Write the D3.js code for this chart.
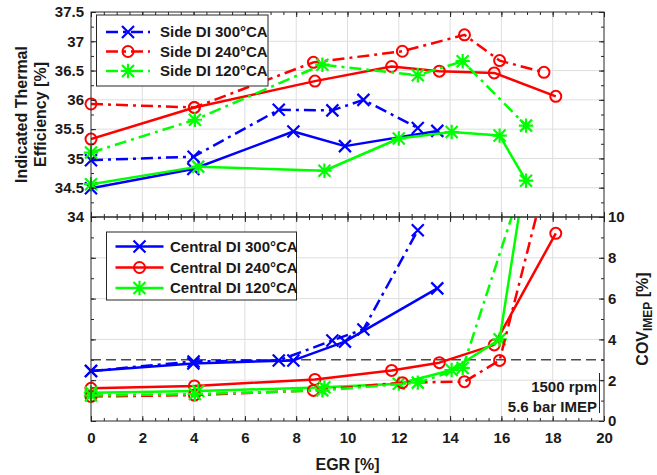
<!DOCTYPE html>
<html><head><meta charset="utf-8">
<script src="https://cdn.jsdelivr.net/npm/d3@7"></script>
<style>
body{margin:0;background:#fff}
svg{display:block}
text{font-family:"Liberation Sans",Arial,sans-serif;font-weight:bold;fill:#1a1a1a}
</style>
</head><body>
<svg id="c" width="657" height="475"></svg>
<script>
// ---- tick labels ----
const xTicks=[0,2,4,6,8,10,12,14,16,18,20];
const effTicks=[34,34.5,35,35.5,36,36.5,37,37.5];
const covTicks=[0,2,4,6,8,10];
// ---- Central DI (solid) ----
const egrC300=[0,3.99,7.89,9.9,13.5];
const effC300=[34.49,34.82,35.46,35.21,35.47];
const covC300=[2.45,2.82,2.97,3.89,6.5];
const egrC240=[0,4.03,8.73,11.72,13.58,15.72,18.12];
const effC240=[35.33,35.87,36.32,36.57,36.49,36.46,36.06];
const covC240=[1.6,1.72,2.04,2.48,2.86,3.73,9.2];
const egrC120=[0,4.18,9.1,12.0,14.06,15.93,16.96];
const effC120=[34.56,34.86,34.79,35.34,35.45,35.39,34.62];
const covC120=[1.39,1.47,1.65,1.83,2.5,4.0,12.3];
// ---- Side DI (dash-dot) ----
const egrS300=[0,4.0,7.32,9.41,10.62,12.74];
const effS300=[34.97,35.03,35.83,35.82,36.0,35.52];
const covS300=[2.45,2.92,2.97,3.95,4.49,9.35];
const egrS240=[0,4.03,8.67,12.14,14.56,15.93,17.66];
const effS240=[35.93,35.87,36.64,36.83,37.11,36.67,36.47];
const covS240=[1.2,1.27,1.5,1.88,1.93,2.97,11.5];
const egrS120=[0,4.05,9.02,12.74,14.49,16.96];
const effS120=[35.10,35.66,36.60,36.42,36.66,35.56];
const covS120=[1.25,1.32,1.5,1.88,2.6,12.17];
const covLimit=3;

const BLUE="#0000ff",RED="#ff0000",GREEN="#00ff00";
const series=[
 {name:"Central DI 300°CA",egr:egrC300,eff:effC300,cov:covC300,color:BLUE,mk:"x",dash:null},
 {name:"Central DI 240°CA",egr:egrC240,eff:effC240,cov:covC240,color:RED,mk:"o",dash:null},
 {name:"Central DI 120°CA",egr:egrC120,eff:effC120,cov:covC120,color:GREEN,mk:"*",dash:null},
 {name:"Side DI 300°CA",egr:egrS300,eff:effS300,cov:covS300,color:BLUE,mk:"x",dash:"12,5,3,5"},
 {name:"Side DI 240°CA",egr:egrS240,eff:effS240,cov:covS240,color:RED,mk:"o",dash:"12,5,3,5"},
 {name:"Side DI 120°CA",egr:egrS120,eff:effS120,cov:covS120,color:GREEN,mk:"*",dash:"12,5,3,5"}
];

const L=91,R=604,T=12,M=217,B=421;
const svg=d3.select("#c");
const x=d3.scaleLinear().domain([0,20]).range([L,R]);
const yE=d3.scaleLinear().domain([34,37.5]).range([M,T]);
const yC=d3.scaleLinear().domain([0,10]).range([B,M]);
const AX="#262626",GRID="#dedede";

// clip paths
const defs=svg.append("defs");
defs.append("clipPath").attr("id","clipTop").append("rect").attr("x",L).attr("y",T).attr("width",R-L).attr("height",M-T);
defs.append("clipPath").attr("id","clipBot").append("rect").attr("x",L).attr("y",M).attr("width",R-L).attr("height",B-M);

// grids
const grid=svg.append("g").attr("stroke",GRID).attr("stroke-width",1);
xTicks.slice(1,-1).forEach(t=>{
  grid.append("line").attr("x1",x(t)).attr("x2",x(t)).attr("y1",T).attr("y2",B);
});
effTicks.slice(1,-1).forEach(t=>{
  grid.append("line").attr("x1",L).attr("x2",R).attr("y1",yE(t)).attr("y2",yE(t));
});
covTicks.slice(1,-1).forEach(t=>{
  grid.append("line").attr("x1",L).attr("x2",R).attr("y1",yC(t)).attr("y2",yC(t));
});

// reference dashed line
svg.append("line").attr("x1",x(0)).attr("x2",x(20)).attr("y1",yC(covLimit)).attr("y2",yC(covLimit))
  .attr("stroke","#4d4d4d").attr("stroke-width",1.5).attr("stroke-dasharray","10,5");

function marker(g,type,cx,cy,color){
  const s=6;
  if(type==="o"){
    g.append("circle").attr("cx",cx).attr("cy",cy).attr("r",5.5).attr("fill","none").attr("stroke",color).attr("stroke-width",2);
  }else{
    const p=d3.path();
    p.moveTo(cx-s,cy-s);p.lineTo(cx+s,cy+s);p.moveTo(cx-s,cy+s);p.lineTo(cx+s,cy-s);
    if(type==="*"){p.moveTo(cx-s*1.2,cy);p.lineTo(cx+s*1.2,cy);p.moveTo(cx,cy-s*1.2);p.lineTo(cx,cy+s*1.2);}
    g.append("path").attr("d",p.toString()).attr("stroke",color).attr("stroke-width",2.2).attr("fill","none");
  }
}

function drawPanel(key,y,clip,lo,hi){
  const g=svg.append("g");
  series.forEach(s=>{
    const pts=s.egr.map((e,i)=>[e,s[key][i]]);
    const line=d3.line().x(d=>x(d[0])).y(d=>y(d[1]));
    g.append("path").attr("d",line(pts)).attr("clip-path",`url(#${clip})`)
      .attr("fill","none").attr("stroke",s.color).attr("stroke-width",2.5)
      .attr("stroke-linejoin","round")
      .attr("stroke-dasharray",s.dash);
    pts.filter(d=>d[1]>=lo&&d[1]<=hi).forEach(d=>marker(g,s.mk,x(d[0]),y(d[1]),s.color));
  });
}
drawPanel("eff",yE,"clipTop",34,37.5);
drawPanel("cov",yC,"clipBot",0,10);

// axes
function styleAxis(g){
  g.select(".domain").remove();
  g.selectAll(".tick line").attr("stroke",AX).attr("stroke-width",1);
  g.selectAll("text").attr("font-size",15).attr("fill","#1a1a1a")
   .style("font-family",'"Liberation Sans",Arial,sans-serif').style("font-weight","bold");
}
const minorX=d3.range(0,20.001,0.5);
const minorE=d3.range(34,37.501,0.25);
const minorC=d3.range(0,10.001,1);
const noLab=()=>"";
// x ticks on all four horizontal edges
[[d3.axisBottom,B,-5,-3,true],[d3.axisTop,M,-5,-3,false],[d3.axisBottom,M,-5,-3,false],[d3.axisTop,T,-5,-3,false]].forEach(([fn,yy,maj,mi,lab])=>{
  styleAxis(svg.append("g").attr("transform",`translate(0,${yy})`).call(fn(x).tickValues(minorX).tickSizeInner(mi).tickSizeOuter(0).tickFormat(noLab)));
  const a=fn(x).tickValues(xTicks).tickSizeInner(maj).tickSizeOuter(0).tickPadding(11.5);
  if(!lab)a.tickFormat(noLab);
  styleAxis(svg.append("g").attr("transform",`translate(0,${yy})`).call(a));
});
// top panel y ticks
styleAxis(svg.append("g").attr("transform",`translate(${L},0)`).call(d3.axisLeft(yE).tickValues(minorE).tickSizeInner(-3).tickSizeOuter(0).tickFormat(noLab)));
styleAxis(svg.append("g").attr("transform",`translate(${L},0)`).call(d3.axisLeft(yE).tickValues(effTicks).tickSizeInner(-5).tickSizeOuter(0).tickPadding(7).tickFormat(d=>String(d))));
styleAxis(svg.append("g").attr("transform",`translate(${R},0)`).call(d3.axisRight(yE).tickValues(minorE).tickSizeInner(-3).tickSizeOuter(0).tickFormat(noLab)));
styleAxis(svg.append("g").attr("transform",`translate(${R},0)`).call(d3.axisRight(yE).tickValues(effTicks).tickSizeInner(-5).tickSizeOuter(0).tickFormat(noLab)));
// bottom panel y ticks
styleAxis(svg.append("g").attr("transform",`translate(${L},0)`).call(d3.axisLeft(yC).tickValues(minorC).tickSizeInner(-3).tickSizeOuter(0).tickFormat(noLab)));
styleAxis(svg.append("g").attr("transform",`translate(${L},0)`).call(d3.axisLeft(yC).tickValues(covTicks).tickSizeInner(-5).tickSizeOuter(0).tickFormat(noLab)));
styleAxis(svg.append("g").attr("transform",`translate(${R},0)`).call(d3.axisRight(yC).tickValues(minorC).tickSizeInner(-3).tickSizeOuter(0).tickFormat(noLab)));
styleAxis(svg.append("g").attr("transform",`translate(${R},0)`).call(d3.axisRight(yC).tickValues(covTicks).tickSizeInner(-5).tickSizeOuter(0).tickPadding(4).tickFormat(d=>String(d))));

// boxes
svg.append("rect").attr("x",L).attr("y",T).attr("width",R-L).attr("height",M-T).attr("fill","none").attr("stroke",AX).attr("stroke-width",1);
svg.append("rect").attr("x",L).attr("y",M).attr("width",R-L).attr("height",B-M).attr("fill","none").attr("stroke",AX).attr("stroke-width",1);

// legends
function legend(items,bx,by,bw,bh,rows,lx1,lx2,tx){
  const g=svg.append("g");
  g.append("rect").attr("x",bx).attr("y",by).attr("width",bw).attr("height",bh).attr("fill","#fff").attr("stroke",AX).attr("stroke-width",1);
  items.forEach((s,i)=>{
    const yy=rows[i];
    g.append("line").attr("x1",lx1).attr("x2",lx2).attr("y1",yy).attr("y2",yy).attr("stroke",s.color).attr("stroke-width",2.5).attr("stroke-dasharray",s.dash);
    marker(g,s.mk,(lx1+lx2)/2,yy,s.color);
    g.append("text").attr("x",tx).attr("y",yy).attr("dy","0.36em").attr("font-size",15).text(s.name);
  });
}
legend(series.slice(3),96.5,15,171.5,71,[32,51.5,71],106,150,160);
legend(series.slice(0,3),106.5,232,190,68,[246.5,267.5,288],115.5,163.5,170);

// annotation
svg.append("text").attr("x",597).attr("y",392).attr("text-anchor","end").attr("font-size",15).text("1500 rpm");
svg.append("text").attr("x",597).attr("y",412).attr("text-anchor","end").attr("font-size",15).text("5.6 bar IMEP");
svg.append("line").attr("x1",599.5).attr("x2",599.5).attr("y1",373).attr("y2",413).attr("stroke",AX).attr("stroke-width",1);

// axis titles
svg.append("text").attr("x",(L+R)/2).attr("y",470).attr("text-anchor","middle").attr("font-size",16).text("EGR [%]");
const yl=svg.append("text").attr("transform",`translate(27,${(T+M)/2}) rotate(-90)`).attr("text-anchor","middle").attr("font-size",16);
yl.append("tspan").attr("x",0).attr("y",0).text("Indicated Thermal");
yl.append("tspan").attr("x",0).attr("y",19).text("Efficiency [%]");
const yr=svg.append("text").attr("transform",`translate(648,${(M+B)/2}) rotate(-90)`).attr("text-anchor","middle").attr("font-size",16);
yr.append("tspan").text("COV");
yr.append("tspan").attr("font-size",12).attr("dy",4).text("IMEP");
yr.append("tspan").attr("dy",-4).text(" [%]");
</script>
</body></html>
